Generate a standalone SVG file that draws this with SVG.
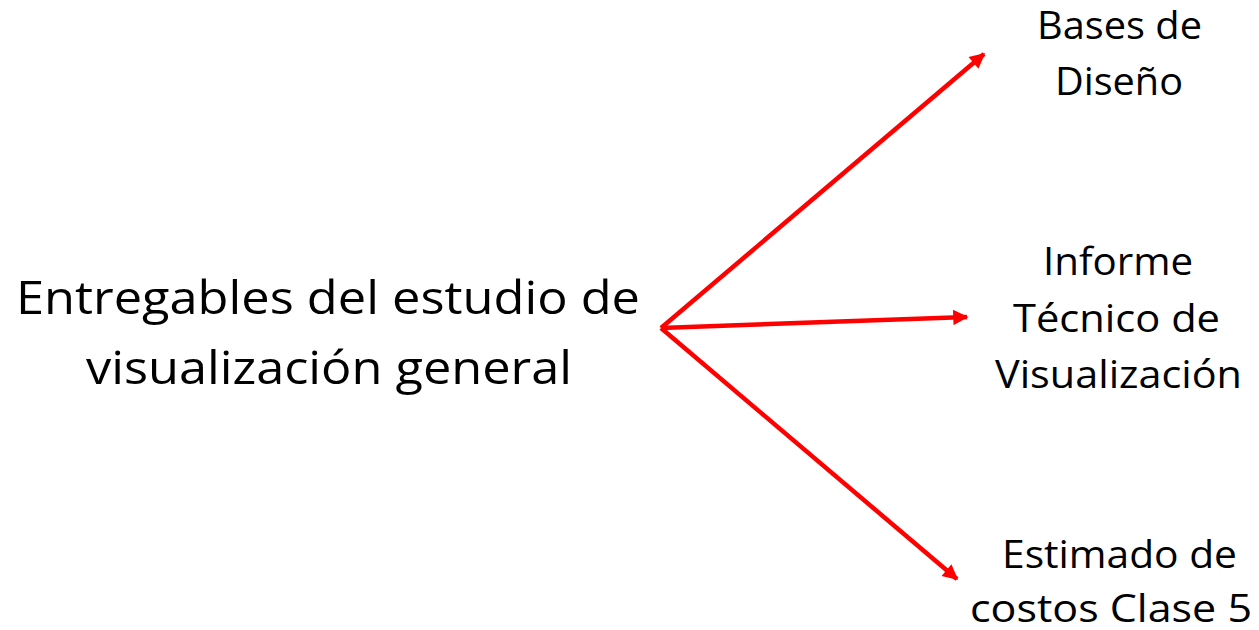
<svg xmlns="http://www.w3.org/2000/svg" width="1259" height="630" viewBox="0 0 1259 630">
<style>
.t{font-family:"Open Sans","Noto Sans","Liberation Sans",sans-serif;fill:#000;text-anchor:start}
.main{font-size:46px}
.lbl{font-size:38px}
.c{stroke:#ff0000;stroke-width:4.5;fill:none}
</style>
<defs>
<marker id="ah" viewBox="0 0 10 10" refX="9" refY="5" markerWidth="4.4" markerHeight="3.4" orient="auto" markerUnits="strokeWidth">
<path d="M0,0 L10,5 L0,10 z" fill="#ff0000"/>
</marker>
</defs>
<rect width="1259" height="630" fill="#fff"/>
<g id="connectors">
<line class="c" x1="661" y1="328" x2="984" y2="54" marker-end="url(#ah)"/>
<line class="c" x1="661" y1="328" x2="967" y2="317" marker-end="url(#ah)"/>
<line class="c" x1="661" y1="328" x2="957" y2="579" marker-end="url(#ah)"/>
</g>
<g id="main">
<text class="t main" x="16" y="314" textLength="624" lengthAdjust="spacingAndGlyphs">Entregables del estudio de</text>
<text class="t main" x="86" y="384" textLength="486" lengthAdjust="spacingAndGlyphs">visualización general</text>
</g>
<g id="bases">
<text class="t lbl" x="1037" y="39" textLength="165" lengthAdjust="spacingAndGlyphs">Bases de</text>
<text class="t lbl" x="1055" y="95" textLength="128" lengthAdjust="spacingAndGlyphs">Diseño</text>
</g>
<g id="informe">
<text class="t lbl" x="1043" y="275" textLength="150" lengthAdjust="spacingAndGlyphs">Informe</text>
<text class="t lbl" x="1013" y="332" textLength="207" lengthAdjust="spacingAndGlyphs">Técnico de</text>
<text class="t lbl" x="995" y="388" textLength="247" lengthAdjust="spacingAndGlyphs">Visualización</text>
</g>
<g id="estimado">
<text class="t lbl" x="1002" y="568" textLength="235" lengthAdjust="spacingAndGlyphs">Estimado de</text>
<text class="t lbl" x="970" y="622" textLength="282" lengthAdjust="spacingAndGlyphs">costos Clase 5</text>
</g>
</svg>
